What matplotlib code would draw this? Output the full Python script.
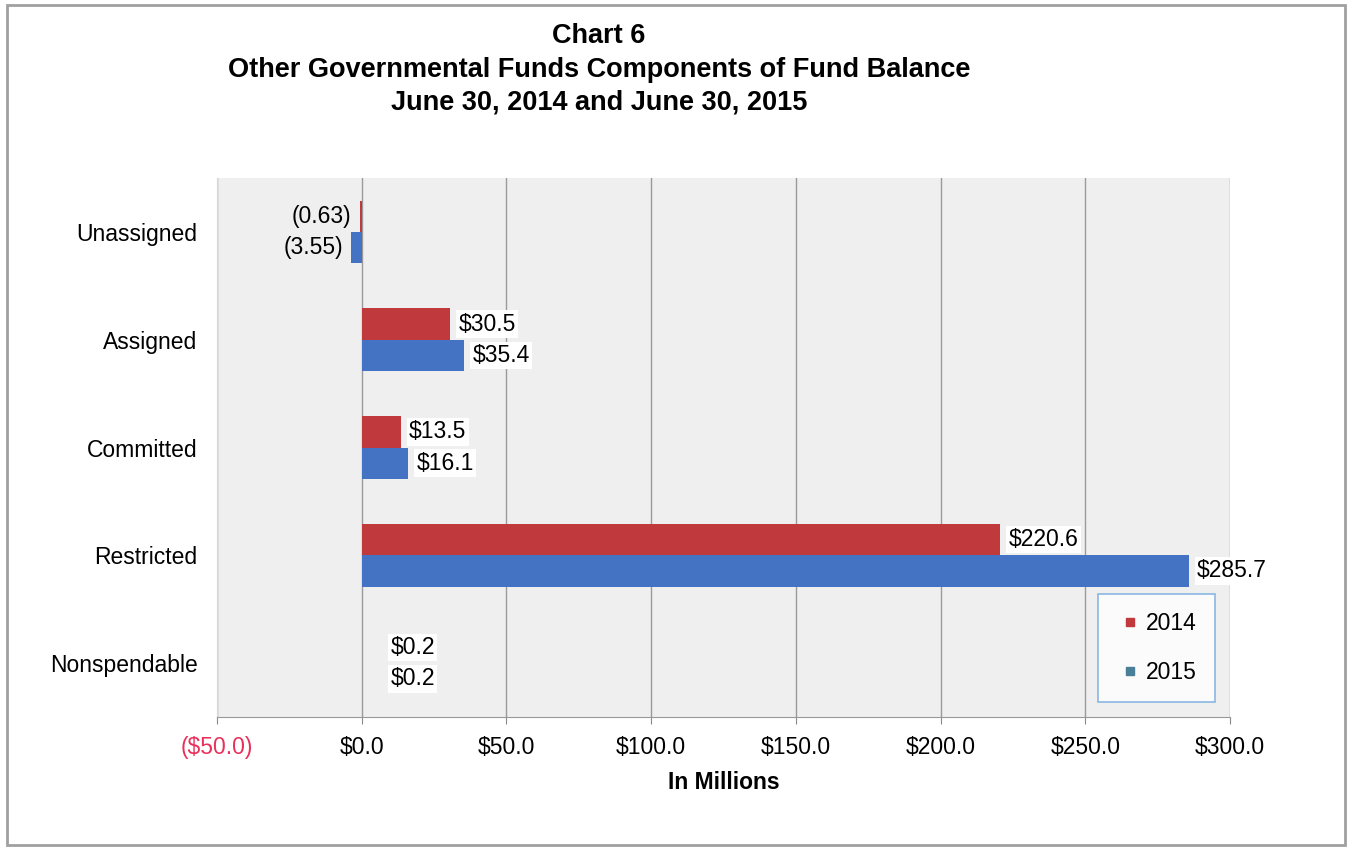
import matplotlib.pyplot as plt
import numpy as np
from matplotlib.lines import Line2D
from matplotlib.patches import Rectangle

plt.rcParams['font.family'] = ['Liberation Sans', 'DejaVu Sans']

# Fund balance components, in millions
categories = ["Unassigned", "Assigned", "Committed", "Restricted", "Nonspendable"]
fy2014 = [-0.63, 30.5, 13.5, 220.6, 0.2]
fy2015 = [-3.55, 35.4, 16.1, 285.7, 0.2]
labels_2014 = ["(0.63)", "$30.5", "$13.5", "$220.6", "$0.2"]
labels_2015 = ["(3.55)", "$35.4", "$16.1", "$285.7", "$0.2"]
xticks = [-50, 0, 50, 100, 150, 200, 250, 300]
xticklabels = ["($50.0)", "$0.0", "$50.0", "$100.0", "$150.0", "$200.0", "$250.0", "$300.0"]

red = "#c0393c"
blue = "#4573c4"
fs = 16.5

fig = plt.figure(figsize=(13.52, 8.5), dpi=100)
ax = fig.add_axes([0.1605, 0.1565, 0.7493, 0.634])
ax.set_facecolor("#efefef")

# outer frame of the chart
fig.patches.append(Rectangle((0.005, 0.006), 0.99, 0.988, transform=fig.transFigure,
                             fill=False, edgecolor="#a0a0a0", linewidth=2))

y = np.arange(len(categories))
h = 0.29
ax.barh(y - h / 2, fy2014, height=h, color=red, zorder=3)
ax.barh(y + h / 2, fy2015, height=h, color=blue, zorder=3)

# value labels next to bar ends
for i in range(len(categories)):
    for val, lab, off in [(fy2014[i], labels_2014[i], -h / 2), (fy2015[i], labels_2015[i], h / 2)]:
        if val < 0:
            ax.annotate(lab, (val, y[i] + off), xytext=(-6, 0), textcoords="offset points",
                        ha="right", va="center", fontsize=fs, zorder=4)
        else:
            ax.annotate(lab, (max(val, 7), y[i] + off), xytext=(6, 0), textcoords="offset points",
                        ha="left", va="center", fontsize=fs, zorder=4,
                        bbox=dict(boxstyle="square,pad=0.1", fc="white", ec="none"))

ax.set_xlim(-50, 300)
ax.set_ylim(len(categories) - 0.5, -0.5)
ax.set_xticks(xticks)
ax.set_xticklabels(xticklabels, fontsize=fs)
ax.get_xticklabels()[0].set_color("#e8305a")
ax.set_yticks(y)
ax.set_yticklabels(categories, fontsize=fs)
ax.tick_params(axis="y", length=0, pad=14)
ax.tick_params(axis="x", length=5, color="#888888", pad=9)
ax.grid(axis="x", color="#9a9a9a", linewidth=1, zorder=1)
for s in ["top", "right"]:
    ax.spines[s].set_visible(False)
ax.spines["left"].set_color("#d8d8d8")
ax.spines["bottom"].set_color("#999999")
ax.set_xlabel("In Millions", fontsize=fs, fontweight="bold", labelpad=8)

handles = [Line2D([], [], marker="s", linestyle="", markersize=6, color=red),
           Line2D([], [], marker="s", linestyle="", markersize=6, color="#4a7f9a")]
leg = ax.legend(handles, ["2014", "2015"], loc="lower right", bbox_to_anchor=(0.985, 0.028),
                borderaxespad=0, fontsize=fs, frameon=True, fancybox=False,
                labelspacing=1.1, handletextpad=0.1, borderpad=0.8, handlelength=1.2)
leg.get_frame().set_edgecolor("#6fa8dc")
leg.get_frame().set_facecolor("white")
leg.get_frame().set_linewidth(1.2)

fig.text(0.443, 0.958, "Chart 6", ha="center", va="center", fontsize=19.5, fontweight="bold")
fig.text(0.443, 0.918, "Other Governmental Funds Components of Fund Balance",
         ha="center", va="center", fontsize=19.5, fontweight="bold")
fig.text(0.443, 0.880, "June 30, 2014 and June 30, 2015", ha="center", va="center",
         fontsize=19.5, fontweight="bold")

fig.savefig("out.png", dpi=100)
